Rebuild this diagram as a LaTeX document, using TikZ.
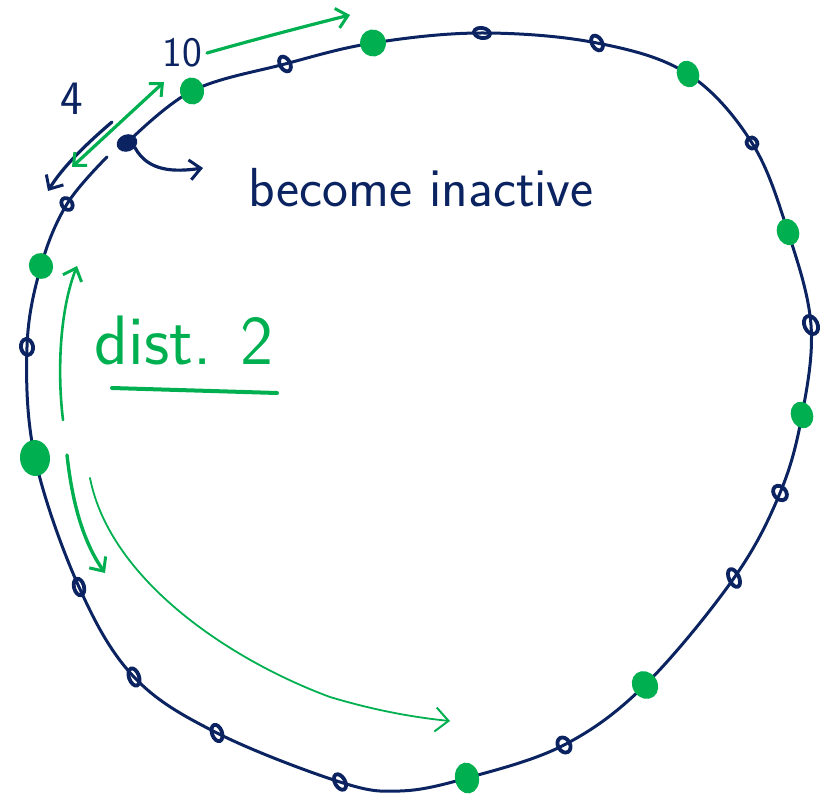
\documentclass[tikz,border=0pt]{standalone}
\usepackage{fontspec}
\usetikzlibrary{arrows.meta,shapes.geometric}
\definecolor{navy}{HTML}{0B2461}
\definecolor{mgreen}{HTML}{00B050}
\begin{document}
\begin{tikzpicture}[x=1pt,y=-1pt,
  ring/.style={draw=navy,line width=3pt,line cap=round},
  dnode/.style={ellipse,draw=navy,line width=3.8pt,minimum width=10pt,minimum height=16pt,inner sep=0pt},
  inode/.style={ellipse,draw=navy,fill=navy,line width=2pt,minimum width=19pt,minimum height=15pt,inner sep=0pt},
  gnode/.style={ellipse,draw=mgreen,fill=mgreen,line width=2pt,minimum width=20pt,minimum height=25pt,inner sep=0pt},
  garrow/.style={draw=mgreen,line width=3.2pt,line cap=round,line join=round},
  thinarrow/.style={draw=mgreen,line width=1.8pt,line cap=round,line join=round},
  darrow/.style={draw=navy,line width=3.2pt,line cap=round,line join=round},
  barb/.style={-{Straight Barb[length=11pt,width=20pt,line width=3pt]}},
  dbarb/.style={{Straight Barb[length=10pt,width=18pt,line width=3pt]}-{Straight Barb[length=10pt,width=18pt,line width=3pt]}}]
\useasboundingbox (0,0) rectangle (827,799);
% ring points
\coordinate (p1) at (127,143);
\coordinate (p2) at (192,91);
\coordinate (p3) at (285,64);
\coordinate (p4) at (373,43);
\coordinate (p5) at (482,33);
\coordinate (p6) at (597,43);
\coordinate (p7) at (688,74);
\coordinate (p8) at (752,143);
\coordinate (p9) at (788,232);
\coordinate (p10) at (811,325);
\coordinate (p11) at (802,415);
\coordinate (p12) at (780,493);
\coordinate (p13) at (734,578);
\coordinate (p14) at (645,685);
\coordinate (p15) at (564,745);
\coordinate (p16) at (467,778);
\coordinate (pb) at (400,791);
\coordinate (p17) at (340,782);
\coordinate (p18) at (217,733);
\coordinate (p19) at (134,677);
\coordinate (p20) at (79,587);
\coordinate (p21) at (35,458);
\coordinate (p22) at (27,347);
\coordinate (p23) at (41,266);
\coordinate (p24) at (67,204);
\coordinate (pe) at (107,157);
\draw[ring] plot[smooth,tension=0.6] coordinates {(p1) (p2) (p3) (p4) (p5) (p6) (p7) (p8) (p9) (p10) (p11) (p12) (p13) (p14) (p15) (p16) (pb) (p17) (p18) (p19) (p20) (p21) (p22) (p23) (p24) (pe)};
% nodes on ring
\node[inode,rotate=20] (n1) at (p1) {};
\node[gnode,rotate=10,minimum width=22pt] (n2) at (p2) {};
\node[dnode,rotate=30] (n3) at (p3) {};
\node[gnode,rotate=10,minimum width=24pt] (n4) at (p4) {};
\node[dnode,rotate=80] (n5) at (p5) {};
\node[dnode,rotate=30] (n6) at (p6) {};
\node[gnode,rotate=20] (n7) at (p7) {};
\node[dnode,rotate=40,minimum height=12pt] (n8) at (p8) {};
\node[gnode,rotate=20] (n9) at (p9) {};
\node[dnode,rotate=25,minimum width=13pt,minimum height=19pt] (n10) at (p10) {};
\node[gnode,rotate=20] (n11) at (p11) {};
\node[dnode,rotate=40,minimum width=12pt] (n12) at (p12) {};
\node[dnode,rotate=25,minimum height=19pt] (n13) at (p13) {};
\node[gnode,rotate=35,minimum width=23pt,minimum height=27pt] (n14) at (p14) {};
\node[dnode,rotate=30,minimum width=12pt] (n15) at (p15) {};
\node[gnode,rotate=10,minimum width=22pt,minimum height=29pt] (n16) at (p16) {};
\node[dnode,rotate=30,minimum height=17pt] (n17) at (p17) {};
\node[dnode,rotate=20,minimum height=17pt] (n18) at (p18) {};
\node[dnode,rotate=20,minimum height=18pt] (n19) at (p19) {};
\node[dnode,rotate=15,minimum height=17pt] (n20) at (p20) {};
\node[gnode,rotate=5,minimum width=28pt,minimum height=34pt] (n21) at (p21) {};
\node[dnode,rotate=10,minimum width=12pt] (n22) at (p22) {};
\node[gnode,rotate=20,minimum width=22pt,minimum height=24pt] (n23) at (p23) {};
\node[dnode,rotate=40,minimum height=13pt] (n24) at (p24) {};
% labels
\node[text=navy,font=\sffamily\fontsize{48}{50}\selectfont,anchor=base] (l4) at (72,115) {4};
\node[text=navy,font=\sffamily\fontsize{42}{44}\selectfont,anchor=base] (l10) at (182,67) {10};
\node[text=navy,font=\sffamily\fontsize{55}{60}\selectfont,anchor=base] (tinact) at (421,207) {become inactive};
\node[text=mgreen,font=\sffamily\fontsize{70}{74}\selectfont,anchor=base] (tdist) at (184,365) {dist. 2};
% underline
\coordinate (u1) at (112,388);
\coordinate (u2) at (277,393);
\draw[mgreen,line width=4pt,line cap=round] (u1) -- (u2);
% arrow near 10
\coordinate (a1s) at (207,53);
\coordinate (a1e) at (350,15);
\draw[garrow,barb] (a1s) .. controls (260,38) and (310,25) .. (a1e);
% dark arrow near 4
\coordinate (d1s) at (112,122);
\coordinate (d1e) at (48,191);
\draw[darrow,barb] (d1s) .. controls (85,145) and (62,168) .. (d1e);
% double green arrow 4
\coordinate (g2s) at (72,167);
\coordinate (g2e) at (164,82);
\draw[garrow,dbarb] (g2s) -- (g2e);
% become inactive arrow
\coordinate (bi) at (203,168);
\draw[darrow,barb] (n1.-50) .. controls (148,172) and (175,172) .. (bi);
% left arrows
\coordinate (g5s) at (63,420);
\coordinate (g5e) at (77,266);
\draw[garrow,line width=2.6pt,barb] (g5s) .. controls (57,370) and (60,310) .. (g5e);
\coordinate (g6s) at (67,455);
\coordinate (g6e) at (105,573);
\draw[garrow,line width=3.4pt,barb] (g6s) .. controls (72,500) and (82,540) .. (g6e);
% long thin arrow
\coordinate (g7s) at (90,478);
\coordinate (g7e) at (450,721);
\draw[thinarrow,-{Straight Barb[length=13pt,width=24pt,line width=2pt]}] (g7s) .. controls (110,580) and (230,660) .. (330,697) .. controls (380,712) and (420,718) .. (g7e);
\end{tikzpicture}
\end{document}
